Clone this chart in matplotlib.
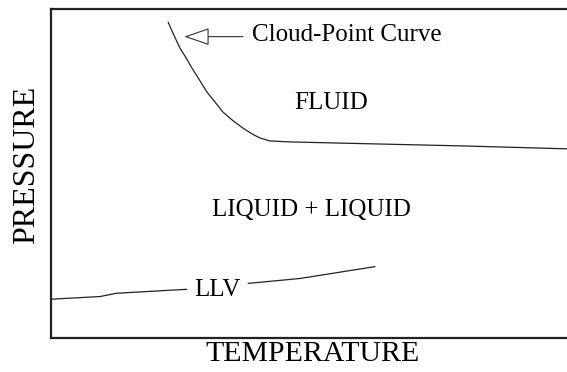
import matplotlib.pyplot as plt
from matplotlib.patches import FancyArrowPatch

plt.rcParams["font.family"] = ["Liberation Serif", "DejaVu Serif"]

# Schematic P-T diagram, arbitrary units (temperature 0-10, pressure 0-10)
cloud_t = [2.27, 2.38, 2.50, 2.62, 2.73, 2.89, 3.02, 3.18, 3.33, 3.53, 3.72,
           3.90, 4.05, 4.24, 4.63, 5.99, 7.93, 10.0]
cloud_p = [9.60, 9.21, 8.81, 8.51, 8.21, 7.81, 7.48, 7.17, 6.87, 6.60, 6.38,
           6.20, 6.08, 5.99, 5.96, 5.91, 5.84, 5.75]

llv_t_left = [0.01, 0.95, 1.27, 2.63]
llv_p_left = [1.18, 1.26, 1.36, 1.48]
llv_t_right = [3.82, 4.83, 6.28]
llv_p_right = [1.66, 1.81, 2.17]

fig = plt.figure(figsize=(5.67, 3.72), dpi=100)
ax = fig.add_axes([51 / 567, (372 - 338) / 372, 516 / 567, 329 / 372])
ax.set_xlim(0, 10)
ax.set_ylim(0, 10)

line_kw = dict(color="#222222", lw=0.9, solid_capstyle="round", solid_joinstyle="round")
ax.plot(cloud_t, cloud_p, **line_kw)
ax.plot(llv_t_left, llv_p_left, **line_kw)
ax.plot(llv_t_right, llv_p_right, **line_kw)

ax.text(3.22, 1.47, "LLV", fontsize=18, ha="center", va="center")
ax.text(5.43, 7.14, "FLUID", fontsize=18, ha="center", va="center")
ax.text(5.05, 3.89, "LIQUID + LIQUID", fontsize=18, ha="center", va="center")
ax.text(3.90, 9.21, "Cloud-Point Curve", fontsize=18, ha="left", va="center")

# open-headed pointer to the cloud-point curve
arrow = FancyArrowPatch((3.72, 9.16), (2.58, 9.16),
                        arrowstyle="-|>,head_length=16,head_width=5.5",
                        mutation_scale=1, lw=0.8, edgecolor="#333333",
                        facecolor="white", shrinkA=0, shrinkB=0)
ax.add_patch(arrow)

ax.set_xlabel("TEMPERATURE", fontsize=21.5)
ax.set_ylabel("PRESSURE", fontsize=23)
ax.xaxis.set_label_coords(0.506, -0.008)
ax.yaxis.set_label_coords(-0.019, 0.526)
ax.set_xticks([])
ax.set_yticks([])
ax.spines["right"].set_visible(False)
for side in ["left", "top", "bottom"]:
    ax.spines[side].set_linewidth(1.6)
    ax.spines[side].set_color("#222222")

fig.savefig("out.png", dpi=100)
